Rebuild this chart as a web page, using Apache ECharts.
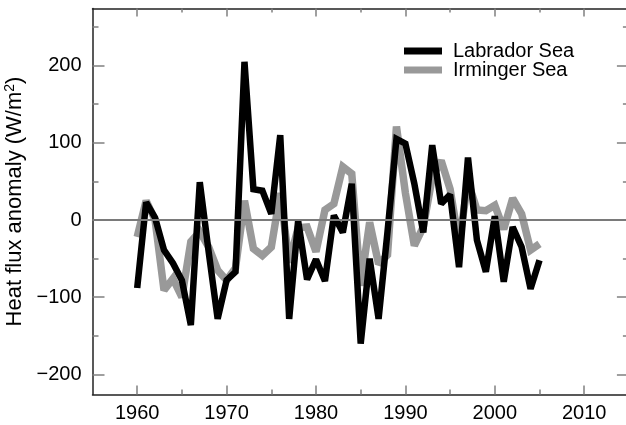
<!DOCTYPE html>
<html><head><meta charset="utf-8">
<script src="https://cdn.jsdelivr.net/npm/echarts@6/dist/echarts.min.js"></script>
<style>html,body{margin:0;padding:0;background:#fff}#c{width:626px;height:425px}</style>
</head><body><div id="c"></div>
<script>
const years = [1960,1961,1962,1963,1964,1965,1966,1967,1968,1969,1970,1971,1972,1973,1974,1975,1976,1977,1978,1979,1980,1981,1982,1983,1984,1985,1986,1987,1988,1989,1990,1991,1992,1993,1994,1995,1996,1997,1998,1999,2000,2001,2002,2003,2004,2005];
const labrador = [-88,23,3,-39,-56,-78,-136,49,-42,-128,-78,-67,205,40,38,8,110,-128,-1,-77,-51,-79,6,-16,47,-160,-50,-128,-15,105,99,47,-16,97,21,33,-61,81,-26,-67,5,-80,-9,-35,-89,-52];
const irminger = [-22,25,0,-91,-76,-100,-28,-15,-35,-65,-78,-62,25,-37,-46,-35,35,-55,-10,-9,-41,13,21,69,60,-85,-3,-57,-45,121,35,-33,-9,55,77,40,-30,50,13,12,19,-12,28,8,-39,-31];
const xTickLabels = [1960,1970,1980,1990,2000,2010];
const xMinorTicks = [1965,1975,1985,1995,2005];
const yTickLabels = [-200,-100,0,100,200];
const yMinorTicks = [-150,-50,50,150,250];
const seriesNames = ['Labrador Sea','Irminger Sea'];

const FONT = '"Liberation Sans", Arial, sans-serif';
const tickColor = '#808080';
const X_MIN = 1955, X_MAX = 2015, Y_MIN = -226, Y_MAX = 274;

function xAx(pos, ticks, len, showLine, showLabels) {
  return {
    type: 'value', position: pos, min: X_MIN, max: X_MAX,
    axisLine: { show: showLine, onZero: false, lineStyle: { color: '#222', width: 1.5 } },
    axisTick: { show: true, inside: true, length: len, customValues: ticks, lineStyle: { color: tickColor, width: 1.5 } },
    axisLabel: { show: showLabels, customValues: ticks, color: '#000', fontSize: 20, fontFamily: FONT, margin: 9,
      formatter: v => String(v) },
    splitLine: { show: false }
  };
}
function yAx(pos, ticks, len, showLine, showLabels, withName) {
  const a = {
    type: 'value', position: pos, min: Y_MIN, max: Y_MAX,
    axisLine: { show: showLine, onZero: false, lineStyle: { color: '#222', width: 1.5 } },
    axisTick: { show: true, inside: true, length: len, customValues: ticks, lineStyle: { color: tickColor, width: 1.5 } },
    axisLabel: { show: showLabels, customValues: ticks, color: '#000', fontSize: 20, fontFamily: FONT, margin: 11,
      formatter: v => String(v).replace('-', '\u2212') },
    splitLine: { show: false }
  };
  if (withName) {
    a.name = 'Heat flux anomaly (W/m{sup|2})';
    a.nameLocation = 'middle';
    a.nameRotate = 90;
    a.nameGap = 47;
    a.nameTextStyle = { color: '#000', fontSize: 22, fontFamily: FONT,
      rich: { sup: { fontSize: 14, verticalAlign: 'top', padding: [0,0,9,0], fontFamily: FONT, color: '#000' } } };
  }
  return a;
}

const chart = echarts.init(document.getElementById('c'), null, { renderer: 'canvas' });
chart.setOption({
  animation: false,
  backgroundColor: '#fff',
  grid: { left: 92.5, top: 8.5, width: 536.4, height: 386, containLabel: false, outerBoundsMode: 'none' },
  xAxis: [
    xAx('bottom', xTickLabels, 9, true, true),
    xAx('bottom', xMinorTicks, 5, false, false),
    xAx('top', xTickLabels, 8, true, false),
    xAx('top', xMinorTicks, 4, false, false)
  ],
  yAxis: [
    yAx('left', yTickLabels, 12, true, true, true),
    yAx('left', yMinorTicks, 6, false, false, false),
    yAx('right', yTickLabels, 12, true, false, false),
    yAx('right', yMinorTicks, 6, false, false, false)
  ],
  legend: {
    orient: 'vertical', left: 404, top: 41, itemWidth: 38, itemHeight: 7, itemGap: -1, padding: 0,
    icon: 'rect',
    textStyle: { fontSize: 20, fontFamily: FONT, color: '#000', padding: [0,0,0,6] },
    data: seriesNames
  },
  series: [
    {
      type: 'line', name: 'zero', data: [], silent: true, z: 1,
      markLine: { silent: true, symbol: 'none', label: { show: false },
        lineStyle: { color: '#7a7a7a', width: 2, type: 'solid' }, data: [{ yAxis: 0 }] }
    },
    {
      type: 'line', name: seriesNames[1], z: 2, showSymbol: false, symbol: 'none',
      data: years.map((y, i) => [y, irminger[i]]),
      itemStyle: { color: '#999999' },
      lineStyle: { color: '#999999', width: 7.5, join: 'miter', miterLimit: 2, cap: 'butt' }
    },
    {
      type: 'line', name: seriesNames[0], z: 3, showSymbol: false, symbol: 'none',
      data: years.map((y, i) => [y, labrador[i]]),
      itemStyle: { color: '#000000' },
      lineStyle: { color: '#000000', width: 6.5, join: 'miter', miterLimit: 2, cap: 'butt' }
    }
  ]
});
</script>
</body></html>
